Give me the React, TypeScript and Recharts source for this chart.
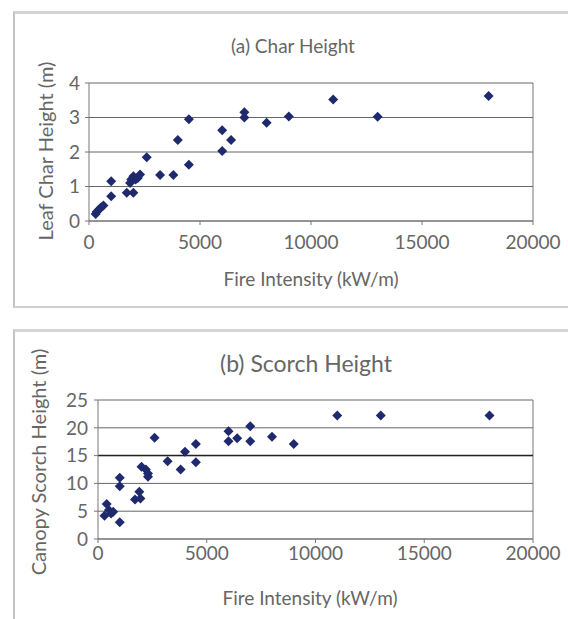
import React from "react";
import { ScatterChart, Scatter, XAxis, YAxis, CartesianGrid, ReferenceLine } from "recharts";

// shared x axis
const xTicks = [0, 5000, 10000, 15000, 20000];

// (a) leaf char height
const charTicks = [0, 1, 2, 3, 4];
const charIntensity = [300, 350, 450, 550, 650, 1000, 1000, 1700, 2000, 1850, 1900, 2000, 2100, 2200, 2300, 2600, 3200, 3800, 4000, 4500, 4500, 6000, 6000, 6400, 7000, 7000, 8000, 9000, 11000, 13000, 18000];
const charHeight = [0.2, 0.27, 0.33, 0.4, 0.45, 1.15, 0.72, 0.82, 0.82, 1.1, 1.2, 1.3, 1.2, 1.25, 1.35, 1.85, 1.33, 1.33, 2.35, 2.95, 1.63, 2.63, 2.03, 2.35, 3.15, 3.0, 2.85, 3.03, 3.52, 3.02, 3.62];

// (b) canopy scorch height
const scorchTicks = [0, 5, 10, 15, 20, 25];
const scorchIntensity = [300, 400, 500, 600, 700, 1000, 1000, 1000, 1700, 1900, 1950, 2000, 2200, 2300, 2300, 2600, 3200, 3800, 4000, 4500, 4500, 6000, 6000, 6400, 7000, 7000, 8000, 9000, 11000, 13000, 18000];
const scorchHeight = [4.2, 6.3, 5.2, 4.6, 4.9, 11, 9.5, 3, 7.1, 8.5, 7.3, 13, 12.5, 11.2, 11.8, 18.2, 14, 12.5, 15.7, 17.1, 13.8, 19.4, 17.6, 18.1, 20.3, 17.6, 18.4, 17.1, 22.2, 22.2, 22.2];

const FONT = "Lato, 'Open Sans', sans-serif";
const TEXT = "#666";
const MARK = "#1f2a6e";

const charData = charIntensity.map((x, i) => ({ x, y: charHeight[i] }));
const scorchData = scorchIntensity.map((x, i) => ({ x, y: scorchHeight[i] }));

const tick = { fontSize: 19, fill: TEXT, fontFamily: FONT };

// Excel style diamond marker, equal width and height
// eslint-disable-next-line @typescript-eslint/no-explicit-any
const Diamond = (props: any) => {
  const { cx, cy } = props;
  const r = 5;
  return <path d={`M${cx},${cy - r}L${cx + r},${cy}L${cx},${cy + r}L${cx - r},${cy}Z`} fill={MARK} />;
};

function Txt({ x, y, text, rotate, size = 19 }: { x: number; y: number; text: string; rotate?: boolean; size?: number }) {
  return (
    <div
      style={{
        position: "absolute",
        left: x,
        top: y,
        transform: `translate(-50%, -50%)${rotate ? " rotate(-90deg)" : ""}`,
        whiteSpace: "nowrap",
        fontFamily: FONT,
        fontSize: size,
        color: TEXT,
        lineHeight: 1,
      }}
    >
      {text}
    </div>
  );
}

export default function App() {
  return (
    <div style={{ position: "absolute", left: 0, top: 0, width: 568, height: 619, overflow: "hidden", background: "#fff" }}>
      {/* panel frames */}
      <div style={{ position: "absolute", left: 13, top: 11, width: 580, height: 292, borderTop: "3px solid #d4d4d4", borderLeft: "2px solid #c4c4c4", borderBottom: "2px solid #cfcfcf" }} />
      <div style={{ position: "absolute", left: 13, top: 329, width: 580, height: 320, borderTop: "3px solid #d4d4d4", borderLeft: "2px solid #c4c4c4" }} />

      <div style={{ position: "absolute", left: 0, top: 0 }}>
        <ScatterChart width={568} height={310} margin={{ top: 83, left: 49, right: 35, bottom: 59 }}>
          <CartesianGrid vertical={false} stroke="#666" />
          <XAxis type="number" dataKey="x" domain={[0, 20000]} ticks={xTicks} height={30} stroke="#777" tickSize={4} tickMargin={11} tick={tick} interval={0} />
          <YAxis type="number" dataKey="y" domain={[0, 4]} ticks={charTicks} width={40} stroke="#777" tickSize={4} tickMargin={5} tick={tick} interval={0} />
          <ReferenceLine x={20000} stroke="#777" />
          <Scatter data={charData} shape={Diamond} isAnimationActive={false} />
        </ScatterChart>
      </div>

      <div style={{ position: "absolute", left: 0, top: 310 }}>
        <ScatterChart width={568} height={309} margin={{ top: 90, left: 58, right: 35, bottom: 50 }}>
          <CartesianGrid vertical={false} stroke="#666" />
          <XAxis type="number" dataKey="x" domain={[0, 20000]} ticks={xTicks} height={30} stroke="#777" tickSize={4} tickMargin={4} tick={tick} interval={0} />
          <YAxis type="number" dataKey="y" domain={[0, 25]} ticks={scorchTicks} width={40} stroke="#777" tickSize={4} tickMargin={6} tick={tick} interval={0} />
          <ReferenceLine x={20000} stroke="#777" />
          <ReferenceLine y={15} stroke="#222" strokeWidth={1.5} />
          <Scatter data={scorchData} shape={Diamond} isAnimationActive={false} />
        </ScatterChart>
      </div>

      <Txt x={293} y={45} text="(a) Char Height" />
      <Txt x={311} y={278} text="Fire Intensity (kW/m)" />
      <Txt x={45} y={151} text="Leaf Char Height (m)" rotate size={20} />

      <Txt x={306} y={363} text="(b) Scorch Height" size={23} />
      <Txt x={310} y={597} text="Fire Intensity (kW/m)" />
      <Txt x={38} y={462} text="Canopy Scorch Height (m)" rotate size={20} />
    </div>
  );
}
